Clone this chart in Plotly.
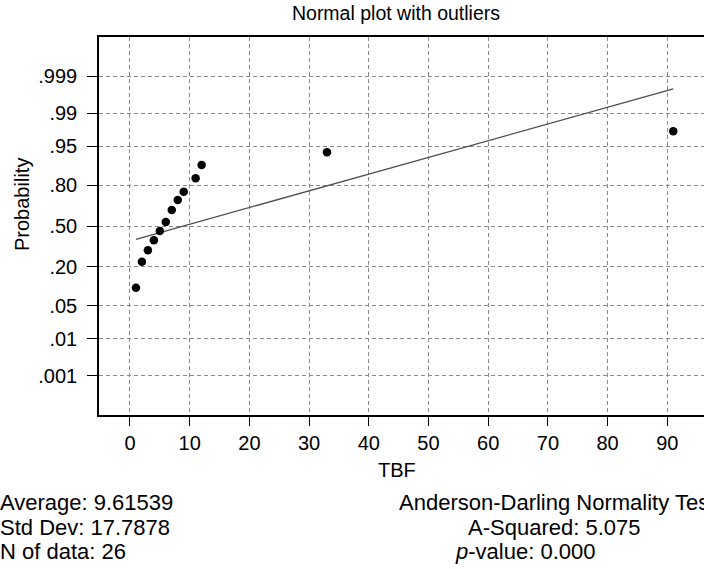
import plotly.graph_objects as go
from statistics import NormalDist

# ---- data ----
tbf_values = [1, 2, 3, 4, 5, 6, 7, 8, 9, 11, 12, 33, 91]
probabilities = [0.101, 0.230, 0.308, 0.384, 0.459, 0.533, 0.630, 0.704,
                 0.761, 0.838, 0.896, 0.936, 0.975]

fit_x = [1, 91]
fit_prob = [0.392, 0.9977]

prob_ticks = [0.001, 0.01, 0.05, 0.20, 0.50, 0.80, 0.95, 0.99, 0.999]
prob_tick_labels = [".001", ".01", ".05", ".20", ".50", ".80", ".95", ".99", ".999"]
x_ticks = [0, 10, 20, 30, 40, 50, 60, 70, 80, 90]

stats_left = ["Average: 9.61539", "Std Dev: 17.7878", "N of data: 26"]
stats_right = ["Anderson-Darling Normality Test", "A-Squared: 5.075", "<i>p</i>-value: 0.000"]

nd = NormalDist()
z_pts = [nd.inv_cdf(p) for p in probabilities]
z_fit = [nd.inv_cdf(p) for p in fit_prob]
z_ticks = [nd.inv_cdf(p) for p in prob_ticks]

FONT = "Liberation Sans, Arial, Helvetica, sans-serif"

fig = go.Figure()
fig.add_trace(go.Scatter(x=fit_x, y=z_fit, mode="lines",
                         line=dict(color="#4d4d4d", width=1.3),
                         showlegend=False, hoverinfo="skip"))
fig.add_trace(go.Scatter(x=tbf_values, y=z_pts, mode="markers",
                         marker=dict(color="black", size=8.5),
                         showlegend=False))

W, H = 704, 569
L, T, B, R = 99, 37, 569 - 415, 0
pw = W - L - R
ph = H - T - B

def px_x(px):
    return (px - L) / pw

def px_y(py):
    return (H - B - py) / ph

fig.update_layout(
    width=W, height=H,
    margin=dict(l=L, r=R, t=T, b=B, pad=0),
    paper_bgcolor="white", plot_bgcolor="white",
    font=dict(family=FONT, size=20, color="black"),
    title=dict(text="Normal plot with outliers", x=396 / W, xanchor="center",
               y=1 - 13 / H, yanchor="middle",
               font=dict(family=FONT, size=19.5, color="black")),
)

fig.update_xaxes(
    range=[-5.19, 96.15], tickvals=x_ticks,
    showline=True, linecolor="black", linewidth=1.5, mirror=True,
    ticks="outside", ticklen=9, tickcolor="black", tickwidth=1.2,
    showgrid=True, gridcolor="#8a8a8a", gridwidth=1, griddash="4px,3px",
    zeroline=False, tickfont=dict(size=20),
)
fig.update_yaxes(
    range=[-3.905, 3.905], tickvals=z_ticks, ticktext=prob_tick_labels,
    showline=True, linecolor="black", linewidth=1.5, mirror=False,
    ticks="outside", ticklen=10, tickcolor="black", tickwidth=1.2,
    ticklabelstandoff=6,
    showgrid=True, gridcolor="#8a8a8a", gridwidth=1, griddash="4px,3px",
    zeroline=False, tickfont=dict(size=20),
)

annotations = [
    dict(text="TBF", x=px_x(397), y=px_y(470), xref="paper", yref="paper",
         xanchor="center", yanchor="middle", showarrow=False, font=dict(size=20)),
    dict(text="Probability", x=px_x(22), y=px_y(205), xref="paper", yref="paper",
         xanchor="center", yanchor="middle", showarrow=False, textangle=-90,
         font=dict(size=20)),
]
left_y = [502, 527, 551]
for txt, yy in zip(stats_left, left_y):
    annotations.append(dict(text=txt, x=px_x(-2), y=px_y(yy), xref="paper", yref="paper",
                            xanchor="left", yanchor="middle", showarrow=False,
                            font=dict(size=22)))
right_x = [397, 466, 453]
for txt, xx, yy in zip(stats_right, right_x, left_y):
    annotations.append(dict(text=txt, x=px_x(xx), y=px_y(yy), xref="paper", yref="paper",
                            xanchor="left", yanchor="middle", showarrow=False,
                            font=dict(size=22)))
fig.update_layout(annotations=annotations)

fig.write_html(
    "out.html",
    config={"displayModeBar": False},
    post_script="document.body.style.margin='0';document.body.style.overflow='hidden';",
)
